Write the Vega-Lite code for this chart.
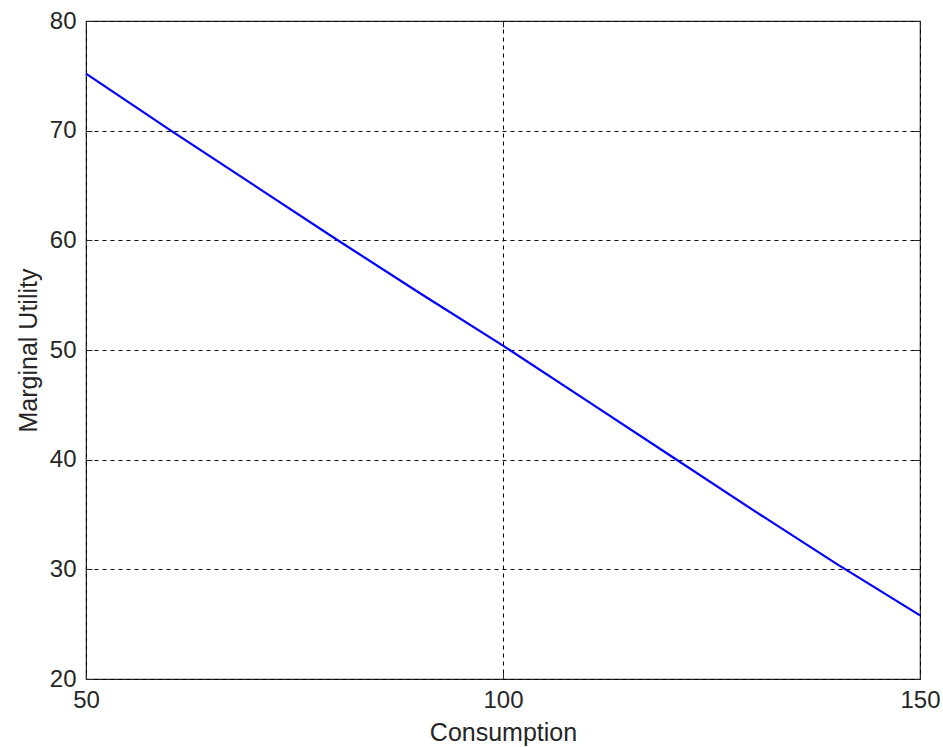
{
  "$schema": "https://vega.github.io/schema/vega-lite/v6.json",
  "autosize": {"type": "none"},
  "width": 834,
  "height": 658,
  "padding": {"left": 86, "top": 21, "right": 23, "bottom": 68},
  "background": "white",
  "config": {
    "view": {"stroke": "#262626", "strokeWidth": 1.2},
    "font": "Liberation Sans",
    "axis": {
      "labelFont": "Liberation Sans",
      "titleFont": "Liberation Sans",
      "labelFontSize": 24,
      "titleFontSize": 25,
      "labelColor": "#262626",
      "titleColor": "#262626",
      "titleFontWeight": "normal",
      "domain": false,
      "tickColor": "#262626",
      "tickSize": -6,
      "gridColor": "#000000",
      "gridDash": [4, 4],
      "gridOpacity": 1,
      "gridWidth": 1
    }
  },
  "data": {
    "values": [
      {"c": 50, "mu": 75.2},
      {"c": 60, "mu": 70.1},
      {"c": 70, "mu": 65.1},
      {"c": 80, "mu": 60.1},
      {"c": 90, "mu": 55.2},
      {"c": 100, "mu": 50.4},
      {"c": 110, "mu": 45.4},
      {"c": 120, "mu": 40.4},
      {"c": 130, "mu": 35.4},
      {"c": 140, "mu": 30.5},
      {"c": 150, "mu": 25.8}
    ]
  },
  "layer": [
    {
      "mark": {"type": "line", "color": "#0000ff", "strokeWidth": 2.2},
      "encoding": {
        "x": {"field": "c", "type": "quantitative", "title": "Consumption",
          "scale": {"domain": [50, 150], "nice": false, "zero": false},
          "axis": {"values": [50, 100, 150], "labelPadding": 15, "titlePadding": 8, "labelFlush": false}},
        "y": {"field": "mu", "type": "quantitative", "title": "Marginal Utility",
          "scale": {"domain": [20, 80], "nice": false, "zero": false},
          "axis": {"values": [20, 30, 40, 50, 60, 70, 80], "labelPadding": 16, "titlePadding": 8, "labelFlush": false}}
      }
    },
    {
      "mark": {"type": "line", "opacity": 0},
      "encoding": {
        "x": {"field": "c", "type": "quantitative",
          "scale": {"domain": [50, 150], "nice": false, "zero": false},
          "axis": {"orient": "top", "values": [50, 100, 150], "labels": false, "grid": false, "title": null}},
        "y": {"field": "mu", "type": "quantitative",
          "scale": {"domain": [20, 80], "nice": false, "zero": false},
          "axis": {"orient": "right", "values": [20, 30, 40, 50, 60, 70, 80], "labels": false, "grid": false, "title": null}}
      }
    }
  ],
  "resolve": {"axis": {"x": "independent", "y": "independent"}}
}
